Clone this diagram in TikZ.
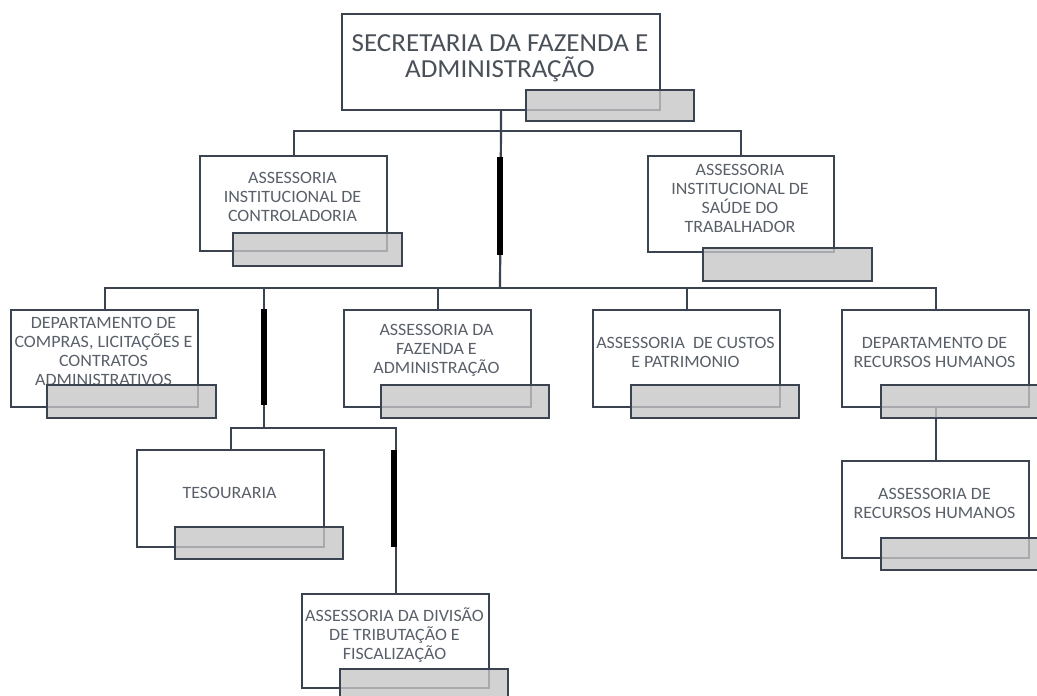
\documentclass[tikz,border=0pt]{standalone}
\usepackage{fontspec}
\setmainfont{Carlito}[FakeStretch=1.04]
\definecolor{ln}{HTML}{3C4350}
\definecolor{tx}{HTML}{5A6069}
\definecolor{tx2}{HTML}{4A5058}
\definecolor{tabfill}{HTML}{C6C6C6}
\begin{document}
\begin{tikzpicture}[x=1pt,y=-1pt,
  box/.style={draw=ln, line width=2.2pt, fill=white, rectangle, inner sep=0pt, anchor=north west},
  tabbox/.style={draw=ln, line width=2.2pt, fill=tabfill, fill opacity=0.78, rectangle, inner sep=0pt, anchor=north west},
  txt/.style={align=center, inner sep=0pt, text=tx, font=\fontsize{17.3}{19}\selectfont},
  bigtxt/.style={align=center, inner sep=0pt, text=tx2, font=\fontsize{26}{25.5}\selectfont},
  conn/.style={draw=ln, line width=2.2pt},
  bar/.style={draw=black, line width=5.5pt}]
\clip (0,0) rectangle (1037,696);
\fill[white] (0,0) rectangle (1037,696);
% boxes
\node[box, minimum width=318pt, minimum height=96pt] (top) at (341,13) {};
\node[box, minimum width=187pt, minimum height=95pt] (ctrl) at (199,155) {};
\node[box, minimum width=186pt, minimum height=96pt] (saude) at (647,155) {};
\node[box, minimum width=187pt, minimum height=97pt] (compras) at (10,309) {};
\node[box, minimum width=187pt, minimum height=97pt] (fazenda) at (343,309) {};
\node[box, minimum width=187pt, minimum height=97pt] (custos) at (592,309) {};
\node[box, minimum width=187pt, minimum height=97pt] (rh) at (841,309) {};
\node[box, minimum width=187pt, minimum height=97pt] (arh) at (841,460) {};
\node[box, minimum width=187pt, minimum height=97pt] (tes) at (136,449) {};
\node[box, minimum width=187pt, minimum height=94pt] (trib) at (301,593) {};
% junctions
\coordinate (h1) at (500,131);
\coordinate (h2) at (500,288);
\coordinate (j1) at (264,288);
\coordinate (j2) at (264,428);
\coordinate (b1a) at (500,157);
\coordinate (b1b) at (500,255);
\coordinate (b2a) at (264,309);
\coordinate (b2b) at (264,405);
\coordinate (b3a) at (394,450);
\coordinate (b3b) at (394,547);
% connectors
\draw[conn] (top.south) -- (h2);
\draw[conn] (ctrl.north) |- (h1) -| (saude.north);
\draw[conn] (compras.north) |- (h2) -| (rh.north);
\draw[conn] (fazenda.north) -- (fazenda.north |- h2);
\draw[conn] (custos.north) -- (custos.north |- h2);
\draw[conn] (j1) -- (j2);
\draw[conn] (tes.north) |- (j2) -| (trib.north);
\draw[conn] (rh.south) -- (arh.north);
\draw[bar] (b1a) -- (b1b);
\draw[bar] (b2a) -- (b2b);
\draw[bar] (b3a) -- (b3b);
% texts
\node[bigtxt] (topT) at (500,58) {SECRETARIA DA FAZENDA E\\ADMINISTRAÇÃO};
\node[txt] (ctrlT) at (292.5,197) {ASSESSORIA\\INSTITUCIONAL DE\\CONTROLADORIA};
\node[txt] (saudeT) at (740,198) {ASSESSORIA\\INSTITUCIONAL DE\\SAÚDE DO\\TRABALHADOR};
\node[txt] (comprasT) at (103.5,351) {DEPARTAMENTO DE\\COMPRAS, LICITAÇÕES E\\CONTRATOS\\ADMINISTRATIVOS};
\node[txt] (fazendaT) at (436.5,350) {ASSESSORIA DA\\FAZENDA E\\ADMINISTRAÇÃO};
\node[txt] (custosT) at (685.5,352) {ASSESSORIA\ \ DE CUSTOS\\E PATRIMONIO};
\node[txt] (rhT) at (934.5,352) {DEPARTAMENTO DE\\RECURSOS HUMANOS};
\node[txt] (arhT) at (934.5,503) {ASSESSORIA DE\\RECURSOS HUMANOS};
\node[txt] (tesT) at (229.5,493) {TESOURARIA};
\node[txt] (tribT) at (394.5,635) {ASSESSORIA DA DIVISÃO\\DE TRIBUTAÇÃO E\\FISCALIZAÇÃO};
% tabs
\node[tabbox, minimum width=168pt, minimum height=31pt] (topG) at (525,89) {};
\node[tabbox, minimum width=169pt, minimum height=33pt] (ctrlG) at (232,232) {};
\node[tabbox, minimum width=169pt, minimum height=33pt] (saudeG) at (702,247) {};
\node[tabbox, minimum width=169pt, minimum height=33pt] (comprasG) at (46,384) {};
\node[tabbox, minimum width=168pt, minimum height=33pt] (fazendaG) at (380,384) {};
\node[tabbox, minimum width=168pt, minimum height=33pt] (custosG) at (630,384) {};
\node[tabbox, minimum width=168pt, minimum height=33pt] (rhG) at (880,384) {};
\node[tabbox, minimum width=168pt, minimum height=32pt] (arhG) at (880,537) {};
\node[tabbox, minimum width=168pt, minimum height=32pt] (tesG) at (174,526) {};
\node[tabbox, minimum width=168pt, minimum height=33pt] (tribG) at (339,668) {};
\end{tikzpicture}
\end{document}
